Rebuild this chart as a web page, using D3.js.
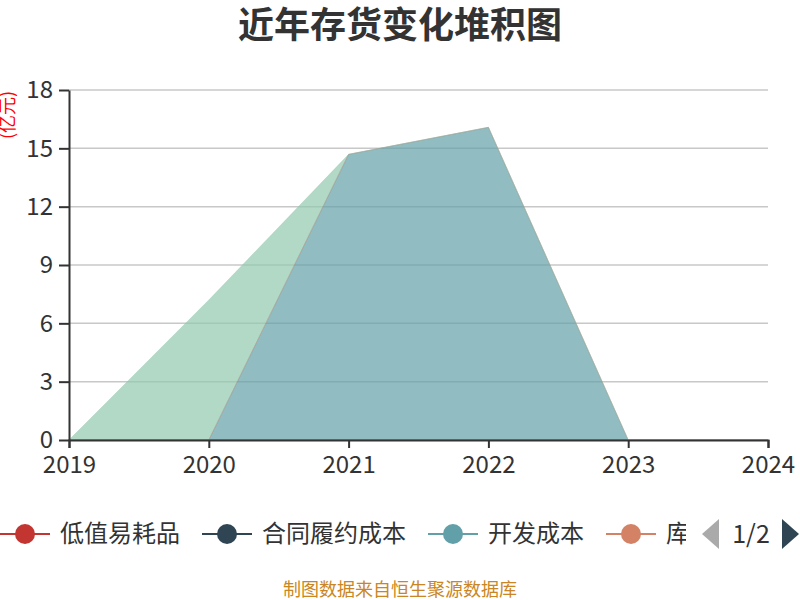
<!DOCTYPE html>
<html>
<head>
<meta charset="utf-8">
<script src="https://cdn.jsdelivr.net/npm/d3@7"></script>
<style>
  body{margin:0;background:#fff;}
  text{font-family:"Noto Sans CJK SC","Noto Sans",sans-serif;}
</style>
</head>
<body>
<div id="chart"></div>
<script>
// chart data
const years = ['2019','2020','2021','2022','2023','2024'];
const seriesNames = ['低值易耗品','合同履约成本','开发成本','库存商品','原材料'];
const lowValueItems = [0,0,0,0,0,0];
const contractCost = [0,0,0,0,0,0];
const devCost = [0,0,14.69,16.08,0,0];
const stockGoods = [0,0,0,0,0,0];
const rawMaterial = [0,7.2,0,0,0,0];
const yTicks = [0,3,6,9,12,15,18];
const colors = ['#c23531','#2f4554','#61a0a8','#d48265','#91c7ae'];

const W = 800, H = 600;
const margin = {top:90,right:32,bottom:160,left:69};

const svg = d3.select('#chart')
.append('svg')
.attr('width',W)
.attr('height',H);

// scales
const x = d3.scalePoint()
.domain(years)
.range([margin.left, W - margin.right]);
const y = d3.scaleLinear()
.domain([0,18])
.range([H - margin.bottom, margin.top]);

// build rows for the stack
const allSeries = [lowValueItems, contractCost, devCost, stockGoods, rawMaterial];
const rows = years.map((yr,i)=>{
  const r = {year:yr};
  seriesNames.forEach((n,k)=>{ r[n] = allSeries[k][i]; });
  return r;
});
const stacked = d3.stack().keys(seriesNames)(rows);

// gridlines
svg.append('g')
.selectAll('line')
.data(yTicks.slice(1))
.join('line')
.attr('x1',x.range()[0])
.attr('x2',x.range()[1])
.attr('y1',d=>y(d))
.attr('y2',d=>y(d))
.attr('stroke','#c8c8c8')
.attr('stroke-width',1.5);

// areas
const area = d3.area()
.x(d=>x(d.data.year))
.y0(d=>y(d[0]))
.y1(d=>y(d[1]));
const line = d3.line()
.x(d=>x(d.data.year))
.y(d=>y(d[1]));

svg.append('g')
.selectAll('path')
.data(stacked)
.join('path')
.attr('d',area)
.attr('fill',(d,i)=>colors[i])
.attr('fill-opacity',0.7);

svg.append('g')
.selectAll('path')
.data(stacked)
.join('path')
.attr('d',line)
.attr('fill','none')
.attr('stroke',(d,i)=>colors[i])
.attr('stroke-opacity',0.35)
.attr('stroke-width',1);

// x axis
svg.append('g')
.attr('transform',`translate(0,${y(0)})`)
.call(d3.axisBottom(x).tickSize(8).tickPadding(8))
.call(g=>g.select('.domain').attr('stroke','#333').attr('stroke-width',2))
.call(g=>g.selectAll('.tick line').attr('stroke','#333').attr('stroke-width',2))
.selectAll('.tick text')
.attr('fill','#333')
.style('font-size','24px')
.style('font-family','"Noto Sans CJK SC","Noto Sans",sans-serif');

// y axis
svg.append('g')
.attr('transform',`translate(${margin.left},0)`)
.call(d3.axisLeft(y).tickValues(yTicks).tickSize(10).tickPadding(6).tickSizeOuter(0))
.call(g=>g.select('.domain').attr('stroke','#333').attr('stroke-width',2))
.call(g=>g.selectAll('.tick line').attr('stroke','#333').attr('stroke-width',2))
.selectAll('.tick text')
.attr('fill','#333')
.style('font-size','24px')
.style('font-family','"Noto Sans CJK SC","Noto Sans",sans-serif');

// unit label
svg.append('text')
.attr('transform','translate(14,115) rotate(-90)')
.attr('text-anchor','middle')
.style('font-size','18px')
.attr('fill','#f00')
.text('(亿元)');

// title
svg.append('text')
.attr('x',W/2)
.attr('y',38)
.attr('text-anchor','middle')
.style('font-size','36px')
.style('font-weight','bold')
.attr('fill','#333')
.text('近年存货变化堆积图');

// legend, page 1 of 2
svg.append('clipPath')
.attr('id','legclip')
.append('rect')
.attr('x',0).attr('y',500).attr('width',686).attr('height',60);

const legend = svg.append('g').attr('clip-path','url(#legclip)');
let lx = 0;
seriesNames.slice(0,4).forEach((n,i)=>{
  const g = legend.append('g');
  g.append('line')
  .attr('x1',lx).attr('x2',lx+50)
  .attr('y1',534).attr('y2',534)
  .attr('stroke',colors[i]).attr('stroke-width',2);
  g.append('circle')
  .attr('cx',lx+25).attr('cy',534).attr('r',10)
  .attr('fill',colors[i]);
  const t = g.append('text')
  .attr('x',lx+60).attr('y',542)
  .style('font-size','24px')
  .attr('fill','#333')
  .text(n);
  lx += 60 + t.node().getComputedTextLength() + 22;
});

// pager
svg.append('path')
.attr('d','M702,534L719,519L719,549Z')
.attr('fill','#aaa');
svg.append('text')
.attr('x',751).attr('y',543)
.attr('text-anchor','middle')
.style('font-size','25px')
.attr('fill','#333')
.text('1/2');
svg.append('path')
.attr('d','M782,519L799,534L782,549Z')
.attr('fill','#2f4554');

// source note
svg.append('text')
.attr('x',400).attr('y',596)
.attr('text-anchor','middle')
.style('font-size','18px')
.attr('fill','#ca8622')
.text('制图数据来自恒生聚源数据库');
</script>
</body>
</html>
